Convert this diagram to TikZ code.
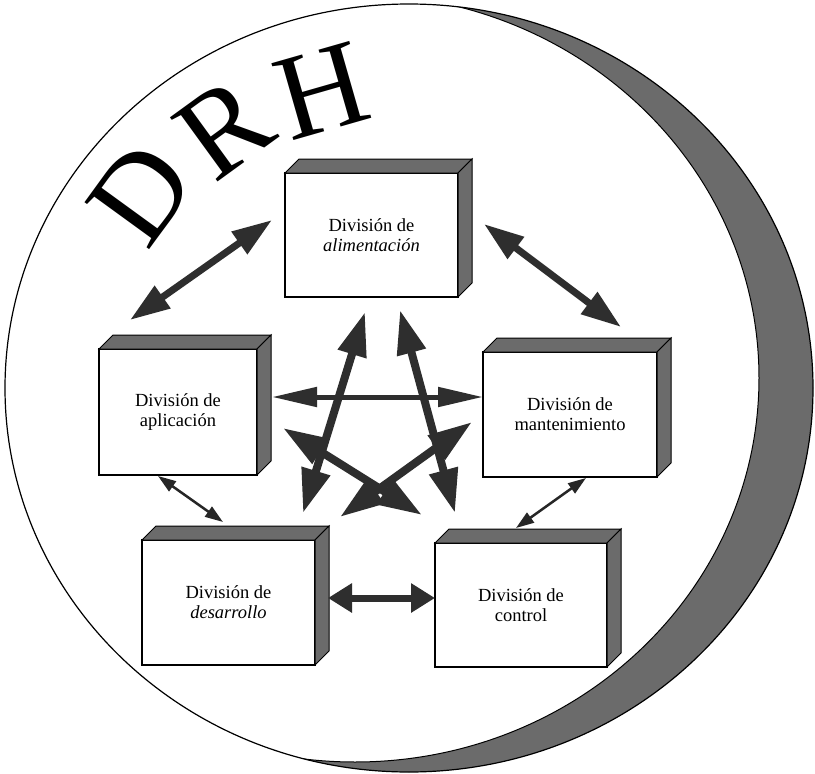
\documentclass[tikz,border=0pt]{standalone}
\usepackage{fontspec}
\setmainfont{Liberation Serif}
\usetikzlibrary{arrows.meta}

% shaded top and right faces of a raised box
\newcommand\depthfaces[1]{%
  \filldraw[band] (#1.north west) -- ++(14,-14) -- ([shift={(14,-14)}]#1.north east) -- (#1.north east) -- cycle;
  \filldraw[band] (#1.north east) -- ++(14,-14) -- ([shift={(14,-14)}]#1.south east) -- (#1.south east) -- cycle;
}

\begin{document}
\begin{tikzpicture}[x=1pt,y=-1pt,
  divbox/.style={draw=black, line width=2.2pt, fill=white, inner sep=0pt, outer sep=0pt,
    align=center, font=\fontsize{18.5}{20}\selectfont},
  band/.style={draw=black, line width=1pt, fill=black!58},
  shade/.style={fill=black!58},
  letter/.style={font=\fontsize{122}{122}\selectfont, inner sep=0pt},
  pentarrow/.style={draw=black!82, line width=8pt,
    {Triangle[length=44pt,width=28pt]}-{Triangle[length=44pt,width=28pt]}},
  sidearrow/.style={draw=black!82, line width=7pt,
    {Triangle[length=40pt,width=26pt]}-{Triangle[length=40pt,width=26pt]}},
  longarrow/.style={draw=black!82, line width=5pt,
    {Triangle[length=45pt,width=19pt]}-{Triangle[length=45pt,width=19pt]}},
  shortarrow/.style={draw=black!82, line width=7pt,
    {Triangle[length=24pt,width=28pt]}-{Triangle[length=24pt,width=28pt]}},
  thinarrow/.style={draw=black!85, line width=2.5pt,
    {Triangle[length=18pt,width=12pt]}-{Triangle[length=18pt,width=12pt]}}
]
\useasboundingbox (0,0) rectangle (815,774);

% outer ring with the shaded crescent on the right
\begin{scope}
  \clip (409,388) ellipse [x radius=404, y radius=384];
  \fill[shade] (409,388) ellipse [x radius=404, y radius=384];
  \fill[white] (355,378) ellipse [x radius=404, y radius=384];
  \draw[line width=1pt] (355,378) ellipse [x radius=404, y radius=384];
\end{scope}
\draw[line width=1.2pt] (409,388) ellipse [x radius=404, y radius=384];

% title letters along the arc
\node[letter, rotate=54] (tD) at (141,193) {D};
\node[letter, rotate=36] (tR) at (224,128) {R};
\node[letter, rotate=16] (tH) at (322,91) {H};

% divisions
\node[divbox, minimum width=173pt, minimum height=124pt] (ali) at (371.5,235) {División de\\\textit{alimentación}};
\node[divbox, minimum width=158pt, minimum height=126pt] (apl) at (178,412) {División de\\aplicación};
\node[divbox, minimum width=174pt, minimum height=125pt] (man) at (570,414.5) {División de\\mantenimiento};
\node[divbox, minimum width=173pt, minimum height=125pt] (des) at (228.5,602.5) {División de\\\textit{desarrollo}};
\node[divbox, minimum width=172pt, minimum height=124pt] (con) at (521,605) {División de\\control};

\depthfaces{ali}
\depthfaces{apl}
\depthfaces{man}
\depthfaces{des}
\depthfaces{con}

% links between divisions
\draw[sidearrow] ([shift={(-13,-15)}]ali.west) -- ([shift={(31,-29)}]apl.north west);
\draw[sidearrow] ([shift={(26,-11)}]ali.east) -- ([shift={(51,-25)}]man.north);
\draw[longarrow] ([shift={(15,-15)}]apl.east) -- ([shift={(0,-17.5)}]man.west);
\draw[shortarrow] ([shift={(13,-4.5)}]des.east) -- ([shift={(0,-7)}]con.west);
\draw[thinarrow] ([shift={(-20,1)}]apl.south) -- ([shift={(-5.5,-18)}]des.north);
\draw[thinarrow] ([shift={(16,1)}]man.south) -- ([shift={(-5,-15)}]con.north);

% star of crossing links
\draw[pentarrow] ([shift={(-6.5,15)}]ali.south) -- ([shift={(-12,-27)}]des.north east);
\draw[pentarrow] ([shift={(28.5,13)}]ali.south) -- ([shift={(20,-30)}]con.north west);
\draw[pentarrow] ([shift={(26,16)}]apl.east) -- ([shift={(-13,-28)}]con.north west);
\draw[pentarrow] ([shift={(-11,7.5)}]man.west) -- ([shift={(25,-23)}]des.north east);
\end{tikzpicture}
\end{document}
